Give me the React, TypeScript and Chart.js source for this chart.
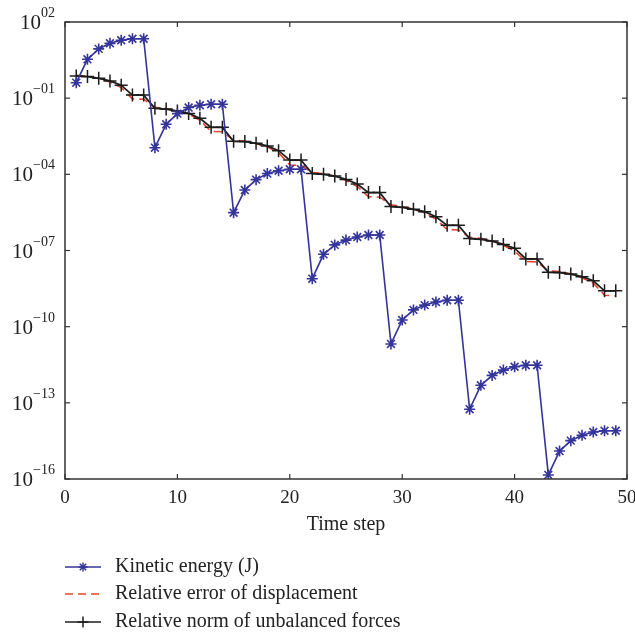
import React, { useEffect, useRef } from "react";
import { Chart, registerables } from "chart.js";

Chart.register(...registerables);

// Time steps
const steps = [
  1, 2, 3, 4, 5, 6, 7, 8, 9, 10, 11, 12, 13, 14, 15, 16, 17, 18, 19, 20, 21, 22, 23, 24, 25,
  26, 27, 28, 29, 30, 31, 32, 33, 34, 35, 36, 37, 38, 39, 40, 41, 42, 43, 44, 45, 46, 47, 48, 49,
];

// log10 of the values read from the (logarithmic) picture
const kineticExp = [
  -0.39, 0.53, 0.94, 1.16, 1.28, 1.34, 1.34,
  -2.95, -2.03, -1.61, -1.37, -1.28, -1.24, -1.24,
  -5.51, -4.62, -4.21, -3.97, -3.86, -3.8, -3.8,
  -8.11, -7.15, -6.78, -6.59, -6.47, -6.39, -6.39,
  -10.68, -9.74, -9.34, -9.15, -9.03, -8.96, -8.96,
  -13.25, -12.31, -11.92, -11.71, -11.58, -11.52, -11.52,
  -15.84, -14.9, -14.49, -14.28, -14.15, -14.1, -14.1,
];

const displacementExp = [
  -0.1, -0.13, -0.22, -0.36, -0.58, -1.03, -1.04,
  -1.36, -1.41, -1.5, -1.62, -1.87, -2.31, -2.32,
  -2.66, -2.69, -2.79, -2.92, -3.15, -3.63, -3.65,
  -3.92, -3.98, -4.07, -4.24, -4.48, -4.88, -4.9,
  -5.2, -5.27, -5.37, -5.52, -5.76, -6.17, -6.19,
  -6.48, -6.52, -6.62, -6.8, -7.02, -7.43, -7.45,
  -7.8, -7.83, -7.92, -8.07, -8.28, -8.76, -8.79,
];

const forcesExp = [
  -0.13, -0.15, -0.22, -0.32, -0.49, -0.88, -0.88,
  -1.4, -1.43, -1.51, -1.6, -1.79, -2.15, -2.15,
  -2.7, -2.71, -2.78, -2.88, -3.07, -3.44, -3.44,
  -3.97, -4.0, -4.07, -4.2, -4.38, -4.72, -4.72,
  -5.27, -5.3, -5.38, -5.47, -5.67, -6.01, -6.01,
  -6.53, -6.56, -6.63, -6.76, -6.91, -7.33, -7.33,
  -7.86, -7.87, -7.93, -8.03, -8.19, -8.59, -8.59,
];

const yTickExps = [2, -1, -4, -7, -10, -13, -16];
const xTicks = [0, 10, 20, 30, 40, 50];
const legendLabels = [
  "Kinetic energy (J)",
  "Relative error of displacement",
  "Relative norm of unbalanced forces",
];
const xTitle = "Time step";

const BLUE = "#34349a";
const RED = "#e8452c";
const BLACK = "#1c1c1c";
const AXIS = "#333333";
const TEXT = "#222222";
const FONT = "'Liberation Serif', 'DejaVu Serif', serif";

function expText(e: number): string {
  return (e < 0 ? "\u2212" : "") + String(Math.abs(e)).padStart(2, "0");
}

function line(ctx: CanvasRenderingContext2D, x1: number, y1: number, x2: number, y2: number) {
  ctx.beginPath();
  ctx.moveTo(x1, y1);
  ctx.lineTo(x2, y2);
  ctx.stroke();
}

function drawStar(ctx: CanvasRenderingContext2D, x: number, y: number, r: number) {
  line(ctx, x - r, y, x + r, y);
  line(ctx, x, y - r, x, y + r);
  const d = r * Math.SQRT1_2;
  line(ctx, x - d, y - d, x + d, y + d);
  line(ctx, x - d, y + d, x + d, y - d);
}

function drawCross(ctx: CanvasRenderingContext2D, x: number, y: number, r: number) {
  line(ctx, x - r, y, x + r, y);
  line(ctx, x, y - r, x, y + r);
}

const framePlugin = {
  id: "framePlugin",
  afterDraw(chart: any) {
    const { ctx, chartArea, scales } = chart;
    const { left, right, top, bottom } = chartArea;
    const xs = scales.x;
    const ys = scales.y;
    ctx.save();
    ctx.strokeStyle = AXIS;
    ctx.lineWidth = 1.5;
    ctx.setLineDash([]);
    ctx.strokeRect(left, top, right - left, bottom - top);
    ctx.lineWidth = 1.2;
    const L = 5;
    xTicks.forEach((v) => {
      const px = xs.getPixelForValue(v);
      line(ctx, px, bottom, px, bottom - L);
      line(ctx, px, top, px, top + L);
    });
    yTickExps.forEach((e) => {
      const py = ys.getPixelForValue(Math.pow(10, e));
      line(ctx, left, py, left + L, py);
      line(ctx, right, py, right - L, py);
    });

    // y tick labels: 10 with superscript exponent
    ctx.fillStyle = TEXT;
    ctx.textAlign = "right";
    ctx.textBaseline = "alphabetic";
    const xr = left - 10;
    yTickExps.forEach((e) => {
      const py = ys.getPixelForValue(Math.pow(10, e));
      const sup = expText(e);
      ctx.font = `14px ${FONT}`;
      const sw = ctx.measureText(sup).width;
      ctx.fillText(sup, xr, py - 5);
      ctx.font = `21px ${FONT}`;
      ctx.fillText("10", xr - sw, py + 7);
    });

    // legend
    const rows = [567, 594, 622];
    const x0 = 65;
    const x1 = 101;
    const xm = (x0 + x1) / 2;
    ctx.font = `20px ${FONT}`;
    ctx.textBaseline = "middle";
    ctx.textAlign = "left";
    ctx.fillStyle = TEXT;
    rows.forEach((ry, i) => {
      ctx.lineWidth = 1.5;
      if (i === 0) {
        ctx.strokeStyle = BLUE;
        ctx.setLineDash([]);
        line(ctx, x0, ry, x1, ry);
        drawStar(ctx, xm, ry, 4.5);
      } else if (i === 1) {
        ctx.strokeStyle = RED;
        ctx.setLineDash([8, 5]);
        line(ctx, x0, ry, x1, ry);
        ctx.setLineDash([]);
      } else {
        ctx.strokeStyle = BLACK;
        ctx.setLineDash([]);
        line(ctx, x0, ry, x1, ry);
        drawCross(ctx, xm, ry, 5.5);
      }
      ctx.fillText(legendLabels[i], 115, ry);
    });
    ctx.restore();
  },
};

export default function App() {
  const ref = useRef<HTMLCanvasElement | null>(null);

  useEffect(() => {
    if (!ref.current) return;
    const toPts = (arr: number[]) => steps.map((s, i) => ({ x: s, y: Math.pow(10, arr[i]) }));
    const chart = new Chart(ref.current, {
      type: "line",
      data: {
        datasets: [
          {
            label: legendLabels[0],
            data: toPts(kineticExp),
            borderColor: BLUE,
            backgroundColor: BLUE,
            borderWidth: 1.6,
            pointStyle: "star",
            pointRadius: 5.5,
            pointBorderWidth: 1.6,
            pointBorderColor: BLUE,
            tension: 0,
            order: 0,
          },
          {
            label: legendLabels[1],
            data: toPts(displacementExp),
            borderColor: RED,
            borderWidth: 1.6,
            borderDash: [9, 5],
            pointRadius: 0,
            tension: 0,
            order: 2,
          },
          {
            label: legendLabels[2],
            data: toPts(forcesExp),
            borderColor: BLACK,
            backgroundColor: BLACK,
            borderWidth: 1.7,
            pointStyle: "cross",
            pointRadius: 6.5,
            pointBorderWidth: 1.5,
            pointBorderColor: BLACK,
            tension: 0,
            order: 1,
          },
        ],
      },
      options: {
        animation: false,
        responsive: false,
        devicePixelRatio: 1,
        layout: { padding: { left: 0, top: 22, right: 8, bottom: 98 } },
        plugins: {
          legend: { display: false },
          tooltip: { enabled: false },
        },
        scales: {
          x: {
            type: "linear",
            min: 0,
            max: 50,
            grid: { display: false, drawTicks: false },
            border: { display: false },
            afterBuildTicks: (s: any) => {
              s.ticks = xTicks.map((v) => ({ value: v }));
            },
            ticks: {
              padding: 8,
              color: TEXT,
              font: { family: FONT, size: 19 },
              maxRotation: 0,
              callback: (v: any) => String(v),
            },
            title: {
              display: true,
              text: xTitle,
              color: TEXT,
              font: { family: FONT, size: 20 },
              padding: { top: 0, bottom: 2 },
            },
            afterFit: (s: any) => {
              s.height = 60;
              s.paddingLeft = 0;
              s.paddingRight = 0;
            },
          },
          y: {
            type: "logarithmic",
            min: 1e-16,
            max: 1e2,
            grid: { display: false, drawTicks: false },
            border: { display: false },
            afterBuildTicks: (s: any) => {
              s.ticks = yTickExps.map((e) => ({ value: Math.pow(10, e) }));
            },
            ticks: { display: false },
            afterFit: (s: any) => {
              s.width = 65;
              s.paddingTop = 0;
              s.paddingBottom = 0;
            },
          },
        },
      },
      plugins: [framePlugin],
    } as any);
    return () => chart.destroy();
  }, []);

  return (
    <div style={{ position: "absolute", left: 0, top: 0, width: 635, height: 637, background: "#fff" }}>
      <canvas ref={ref} width={635} height={637} style={{ display: "block" }} />
    </div>
  );
}
